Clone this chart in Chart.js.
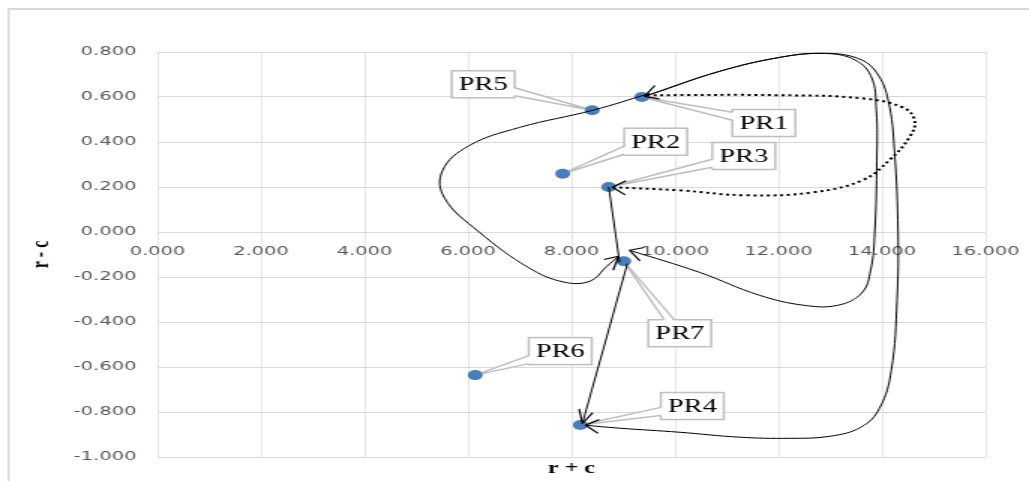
<!DOCTYPE html>
<html>
<head>
<meta charset="utf-8">
<title>r + c / r - c</title>
<script src="https://cdn.jsdelivr.net/npm/chart.js@4.4.1/dist/chart.umd.min.js"></script>
<style>
  html, body { margin: 0; padding: 0; background: #fff; overflow: hidden; }
  #myChart { display: block; }
</style>
</head>
<body>
<canvas id="myChart" width="686" height="481" style="width:1029px;height:481px"></canvas>
<script>
// the original picture is stretched sideways, so draw narrow and widen with css
const STRETCH = 1029 / 686;

// points
const names = ['PR1', 'PR2', 'PR3', 'PR4', 'PR5', 'PR6', 'PR7'];
const rPlusC = [9.36, 7.83, 8.72, 8.17, 8.40, 6.14, 9.01];
const rMinusC = [0.600, 0.259, 0.200, -0.858, 0.541, -0.636, -0.130];

// ticks
const xTicks = [0, 2, 4, 6, 8, 10, 12, 14, 16];
const xTickLabels = ['0.000', '2.000', '4.000', '6.000', '8.000', '10.000', '12.000', '14.000', '16.000'];
const yTicks = [-1, -0.8, -0.6, -0.4, -0.2, 0, 0.2, 0.4, 0.6, 0.8];
const yTickLabels = ['-1.000', '-0.800', '-0.600', '-0.400', '-0.200', '0.000', '0.200', '0.400', '0.600', '0.800'];

// hand drawn arrows, [r + c, r - c] pairs
const loopPR1toPR7 = [[9.51, 0.616], [8.41, 0.541], [7.00, 0.465], [6.03, 0.385], [5.51, 0.274], [5.55, 0.150],
  [6.22, -0.001], [7.19, -0.161], [7.86, -0.223], [8.35, -0.219], [8.68, -0.153], [8.91, -0.108]];
const linePR3toPR7 = [[8.72, 0.200], [8.93, -0.135]];
const linePR7toPR4 = [[9.08, -0.140], [8.21, -0.851]];
const dottedPR1toPR3 = [[9.45, 0.608], [12.02, 0.608], [13.62, 0.594], [14.40, 0.554], [14.63, 0.496], [14.53, 0.421],
  [14.14, 0.319], [13.62, 0.230], [12.66, 0.176], [11.38, 0.163], [10.09, 0.185], [8.79, 0.199]];
const innerPR7toPR1 = [[9.12, -0.081], [10.47, -0.179], [11.63, -0.281], [12.50, -0.326], [13.14, -0.326], [13.60, -0.273],
  [13.78, -0.170], [13.86, -0.001], [13.90, 0.319], [13.89, 0.541], [13.78, 0.696], [13.41, 0.772], [12.79, 0.794],
  [12.02, 0.776], [10.86, 0.714], [9.70, 0.625], [9.41, 0.603]];
const outerPR1toPR4 = [[9.41, 0.603], [10.86, 0.714], [12.02, 0.776], [12.89, 0.794], [13.53, 0.772], [13.89, 0.710],
  [14.12, 0.585], [14.24, 0.363], [14.31, -0.001], [14.29, -0.304], [14.18, -0.615], [13.95, -0.784], [13.59, -0.868],
  [12.99, -0.908], [12.21, -0.917], [11.25, -0.912], [10.09, -0.890], [8.93, -0.872], [8.27, -0.859]];

// where each label box sits from its point (screen px)
const labelOffsets = [[122, 26], [93, -32], [135, -31], [112, -19], [-109, -26], [85, -24], [56, 72]];

const arrows = [
  { pts: loopPR1toPR7, dash: [], width: 1, end: true },
  { pts: linePR3toPR7, dash: [], width: 1 },
  { pts: linePR7toPR4, dash: [], width: 1, end: true },
  { pts: dottedPR1toPR3, dash: [2, 2.5], width: 2, end: true },
  { pts: innerPR7toPR1, dash: [], width: 1, start: true, end: true },
  { pts: outerPR1toPR4, dash: [], width: 1, end: true }
];

const datasets = arrows.map(function(a){
  return {
    data: a.pts.map(p => ({ x: p[0], y: p[1] })),
    showLine: true,
    tension: a.pts.length > 2 ? 0.4 : 0,
    borderColor: '#000',
    borderWidth: a.width,
    borderDash: a.dash,
    pointRadius: 0,
    pointHoverRadius: 0,
    order: 0
  };
});

datasets.push({
  label: 'PR',
  data: rPlusC.map((x, i) => ({ x: x, y: rMinusC[i] })),
  backgroundColor: '#4a7ebb',
  borderColor: '#4a7ebb',
  borderWidth: 0,
  pointRadius: 5,
  pointHoverRadius: 5,
  order: 10
});
const pointSetIndex = datasets.length - 1;

// outer chart frame (only left and top show in the crop)
const framePlugin = {
  id: 'frame',
  beforeDraw(chart) {
    const c = chart.ctx;
    c.save();
    c.fillStyle = '#fff';
    c.fillRect(0, 0, chart.width, chart.height);
    c.strokeStyle = '#d9d9d9';
    c.lineWidth = 2;
    c.beginPath();
    c.moveTo(5.3, 9);
    c.lineTo(chart.width, 9);
    c.stroke();
    c.lineWidth = 1.4;
    c.beginPath();
    c.moveTo(5.7, 8);
    c.lineTo(5.7, chart.height);
    c.stroke();
    c.restore();
  }
};

// callout labels PR1..PR7
function drawCallout(c, px, py, cx, cy, text) {
  const hw = 21, hh = 13.5;
  const vx = (px - cx) * STRETCH, vy = py - cy;
  const tx = vx !== 0 ? hw * STRETCH / Math.abs(vx) : Infinity;
  const ty = vy !== 0 ? hh / Math.abs(vy) : Infinity;
  let b1, b2, f1, f2;
  if (tx < ty) {
    const ex = cx + Math.sign(vx) * hw;
    let ey = cy + vy * tx;
    ey = Math.min(Math.max(ey, cy - hh + 5), cy + hh - 5);
    const inx = -Math.sign(vx) * 2 / STRETCH;
    b1 = [ex, ey - 4]; b2 = [ex, ey + 4];
    f1 = [ex + inx, ey - 4]; f2 = [ex + inx, ey + 4];
  } else {
    const ey = cy + Math.sign(vy) * hh;
    let ex = cx + vx * ty / STRETCH;
    ex = Math.min(Math.max(ex, cx - hw + 6 / STRETCH), cx + hw - 6 / STRETCH);
    const iny = -Math.sign(vy) * 2;
    const d = 5 / STRETCH;
    b1 = [ex - d, ey]; b2 = [ex + d, ey];
    f1 = [ex - d, ey + iny]; f2 = [ex + d, ey + iny];
  }
  c.strokeStyle = '#bfbfbf';
  c.lineWidth = 1.5;
  c.fillStyle = '#fff';
  c.fillRect(cx - hw, cy - hh, hw * 2, hh * 2);
  c.strokeRect(cx - hw, cy - hh, hw * 2, hh * 2);
  // wedge
  c.beginPath();
  c.moveTo(px, py);
  c.lineTo(f1[0], f1[1]);
  c.lineTo(f2[0], f2[1]);
  c.closePath();
  c.fill();
  c.beginPath();
  c.moveTo(b1[0], b1[1]);
  c.lineTo(px, py);
  c.lineTo(b2[0], b2[1]);
  c.stroke();
  c.fillStyle = '#000';
  c.font = '19px "Liberation Serif"';
  c.textAlign = 'center';
  c.textBaseline = 'middle';
  c.fillText(text, cx, cy + 1);
}

const labelPlugin = {
  id: 'prLabels',
  beforeDatasetsDraw(chart) {
    const c = chart.ctx;
    const meta = chart.getDatasetMeta(pointSetIndex);
    c.save();
    meta.data.forEach(function(pt, i){
      const cx = pt.x + labelOffsets[i][0] / STRETCH;
      const cy = pt.y + labelOffsets[i][1];
      drawCallout(c, pt.x, pt.y, cx, cy, names[i]);
    });
    c.restore();
  }
};

// open arrow heads
function drawHead(c, tip, from) {
  let dx = (tip.x - from.x) * STRETCH, dy = tip.y - from.y;
  const len = Math.hypot(dx, dy) || 1;
  dx /= len; dy /= len;
  const L = 15, a = 28 * Math.PI / 180;
  c.beginPath();
  [a, -a].forEach(function(t){
    const rx = -(dx * Math.cos(t) - dy * Math.sin(t));
    const ry = -(dx * Math.sin(t) + dy * Math.cos(t));
    c.moveTo(tip.x, tip.y);
    c.lineTo(tip.x + rx * L / STRETCH, tip.y + ry * L);
  });
  c.stroke();
}

const arrowPlugin = {
  id: 'arrowHeads',
  afterDatasetsDraw(chart) {
    const c = chart.ctx;
    c.save();
    c.strokeStyle = '#000';
    c.lineWidth = 1.2;
    arrows.forEach(function(a, k){
      const pts = chart.getDatasetMeta(k).data;
      const n = pts.length;
      if (a.end) drawHead(c, pts[n - 1], pts[n - 2]);
      if (a.start) drawHead(c, pts[0], pts[1]);
    });
    c.restore();
  }
};

const tickFont = { family: 'DejaVu Sans', size: 13 };
const titleFont = { family: 'Liberation Serif', size: 16, weight: 'bold' };

const ctx = document.getElementById('myChart').getContext('2d');

let myChart = new Chart(ctx, {
  type: 'scatter',
  data: { datasets: datasets },
  options: {
    responsive: false,
    animation: false,
    events: [],
    layout: { padding: { left: 0, top: 52, right: 29, bottom: 0 } },
    plugins: {
      legend: { display: false },
      tooltip: { enabled: false }
    },
    scales: {
      x: {
        type: 'linear',
        position: { y: 0 },
        min: 0,
        max: 16,
        afterBuildTicks: function(scale){ scale.ticks = xTicks.map(v => ({ value: v })); },
        afterFit: function(scale){ scale.paddingLeft = 0; scale.paddingRight = 0; },
        ticks: {
          callback: (v, i) => xTickLabels[i],
          color: '#595959',
          font: tickFont,
          padding: 12,
          maxRotation: 0,
          autoSkip: false
        },
        grid: { color: '#d9d9d9', lineWidth: 1 / STRETCH, drawTicks: false },
        border: { display: false }
      },
      x2: {
        type: 'linear',
        axis: 'x',
        position: 'bottom',
        min: 0,
        max: 16,
        ticks: { display: false },
        grid: { display: false },
        border: { display: false },
        title: { display: true, text: 'r + c', color: '#000', font: titleFont, padding: { top: 0, bottom: 3 } },
        afterFit: function(scale){ scale.height = 24; scale.paddingLeft = 0; scale.paddingRight = 0; }
      },
      y: {
        type: 'linear',
        position: 'left',
        min: -1,
        max: 0.8,
        afterBuildTicks: function(scale){ scale.ticks = yTicks.map(v => ({ value: v })); },
        ticks: {
          callback: (v, i) => yTickLabels[i],
          color: '#595959',
          font: tickFont,
          padding: 14,
          autoSkip: false
        },
        grid: { color: '#d9d9d9', lineWidth: 1, drawTicks: false },
        border: { display: false },
        title: { display: true, text: 'r - c', color: '#000', font: titleFont, padding: { top: 18, bottom: 0 } },
        afterFit: function(scale){ scale.width = 105; }
      }
    }
  },
  plugins: [framePlugin, labelPlugin, arrowPlugin]
});
</script>
</body>
</html>
